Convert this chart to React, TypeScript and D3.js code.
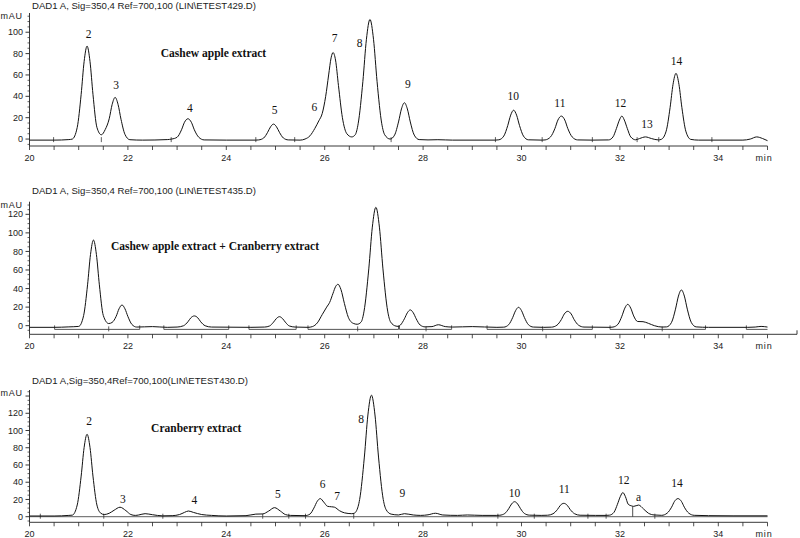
import React from "react";
import * as d3 from "d3";

// retention time (min) / absorbance (mAU)
const cashewTrace: [number, number][] = [
  [20, -1], [20.5, -1], [20.8, -0.5], [20.87, 0], [20.97, 10.9], [21.05, 41.9], [21.11, 72.5],
  [21.17, 87], [21.23, 72.5], [21.29, 41.9], [21.37, 11], [21.46, 4], [21.54, 9], [21.62, 19],
  [21.68, 32.4], [21.74, 39], [21.8, 32.4], [21.86, 18.5], [21.94, 4.4], [22.04, -0.6], [22.3, -1],
  [22.8, -0.5], [22.89, 0], [23.0, 1.7], [23.09, 8.7], [23.15, 15.7], [23.22, 19], [23.29, 15.7],
  [23.35, 8.7], [23.44, 1.7], [23.55, -0.8], [24.0, -1], [24.6, -1], [24.66, -0.8], [24.76, 1],
  [24.84, 6.3], [24.9, 11.5], [24.96, 14], [25.02, 11.5], [25.08, 6.3], [25.16, 1], [25.26, -0.8],
  [25.5, -1], [25.6, 0], [25.7, 3], [25.8, 10], [25.88, 17], [25.95, 24], [26.02, 40], [26.08, 60],
  [26.13, 76], [26.17, 81], [26.22, 74], [26.28, 50], [26.36, 20], [26.45, 5], [26.55, 2],
  [26.62, 4], [26.68, 14.3], [26.776, 54], [26.848, 93.4], [26.92, 112], [26.992, 93.4],
  [27.064, 54], [27.16, 14.3], [27.22, 4], [27.33, 0], [27.42, 3.7], [27.5, 16], [27.56, 28.2],
  [27.62, 34], [27.68, 28.2], [27.74, 16], [27.82, 3.7], [27.92, -0.5], [28.1, -0.8], [28.3, -0.6],
  [28.6, -1], [29.47, -1], [29.54, -0.7], [29.64, 2.8], [29.72, 12.6], [29.78, 22.4], [29.84, 27],
  [29.9, 22.4], [29.96, 12.6], [30.04, 2.8], [30.14, -0.7], [30.42, -1], [30.48, -0.8], [30.59, 2],
  [30.68, 10], [30.74, 17.8], [30.81, 21.5], [30.88, 17.8], [30.94, 10], [31.03, 2], [31.14, -0.8],
  [31.44, -1], [31.77, -0.8], [31.86, 2], [31.93, 10], [31.99, 17.8], [32.04, 21.5], [32.09, 17.8],
  [32.15, 10], [32.22, 2], [32.32, -0.7], [32.4, 0.5], [32.52, 2], [32.64, 0.5], [32.78, -0.8],
  [32.84, -0.3], [32.94, 7.4], [33.02, 29.4], [33.08, 51.2], [33.14, 61.5], [33.2, 51.2],
  [33.26, 29.4], [33.34, 7.4], [33.44, -0.3], [33.6, -1], [34.5, -1], [34.65, 0], [34.78, 2],
  [34.9, 0.5], [35, -1.5],
];

const mixTrace: [number, number][] = [
  [20, -1.8], [20.5, -1.8], [20.8, -1.3], [21.0, -0.8], [21.1, 10.9], [21.18, 44], [21.24, 76.7],
  [21.3, 92.3], [21.36, 76.7], [21.42, 44], [21.5, 11], [21.61, 2.3], [21.68, 3.5], [21.76, 9.9],
  [21.82, 18.2], [21.88, 22.3], [21.94, 18.2], [22.0, 9.9], [22.08, 1.4], [22.18, -1.5], [22.5, -1],
  [22.8, -1.8], [23.0, -1.5], [23.13, -0.1], [23.22, 4.2], [23.28, 8.5], [23.35, 10.5], [23.42, 8.5],
  [23.48, 4.2], [23.57, -0.1], [23.7, -1.5], [24.5, -1.8], [24.78, -1.5], [24.88, -0.3], [24.96, 3.8],
  [25.02, 7.8], [25.08, 9.7], [25.14, 7.8], [25.2, 3.8], [25.28, -0.3], [25.4, -1.5], [25.66, -1.8],
  [25.75, -1], [25.85, 3], [25.95, 12], [26.04, 20], [26.1, 25], [26.17, 35], [26.22, 42],
  [26.27, 44.6], [26.33, 39], [26.4, 24], [26.48, 9], [26.58, 2.5], [26.66, 1.5], [26.74, 3.9],
  [26.8, 15.7], [26.896, 61.2], [26.968, 106.2], [27.04, 127.6], [27.112, 106.2], [27.184, 61.2],
  [27.28, 15.7], [27.34, 3.9], [27.45, -0.5], [27.5, -0.8], [27.54, 0.7], [27.62, 7.4], [27.68, 13.9],
  [27.74, 17], [27.8, 13.9], [27.86, 7.4], [27.94, 0.7], [28.04, -1.3], [28.18, -1], [28.31, 1],
  [28.45, -1], [28.6, -1.5], [29.0, -1], [29.5, -1.8], [29.64, -1.6], [29.74, 1.1], [29.82, 8.7],
  [29.88, 16.2], [29.94, 19.8], [30.0, 16.2], [30.06, 8.7], [30.14, 1.1], [30.24, -1.5], [30.45, -1.8],
  [30.61, -1.6], [30.72, 0.5], [30.81, 6.6], [30.87, 12.6], [30.94, 15.5], [31.01, 12.6], [31.07, 6.6],
  [31.16, 0.5], [31.27, -1.5], [31.8, -1.8], [31.86, -1.5], [31.96, 1.5], [32.04, 10.2], [32.1, 18.9],
  [32.16, 23], [32.22, 18.9], [32.28, 10.5], [32.36, 4.5], [32.47, 4.3], [32.58, 2.5], [32.7, 0],
  [32.86, -1.5], [32.95, -1.3], [33.05, 3.6], [33.13, 17.8], [33.19, 31.9], [33.25, 38.5],
  [33.31, 31.9], [33.37, 17.8], [33.45, 3.6], [33.55, -1.3], [33.8, -1.8], [34.6, -1.8],
  [34.75, -1.5], [34.87, -0.8], [35, -1.5],
];

const cranTrace: [number, number][] = [
  [20, 0.8], [20.5, 0.8], [20.8, 1.5], [20.87, 1.8], [20.97, 13.6], [21.05, 47.1], [21.11, 80.2],
  [21.17, 95.6], [21.23, 80.2], [21.29, 47.1], [21.37, 13.6], [21.45, 4], [21.52, 2.5], [21.62, 4],
  [21.72, 7.5], [21.84, 11], [21.96, 7], [22.06, 2.5], [22.15, 1.5], [22.22, 2], [22.35, 3.5],
  [22.5, 2.3], [22.7, 1], [22.9, 1.2], [23.05, 2.5], [23.15, 5], [23.23, 6.6], [23.33, 5], [23.5, 2.5],
  [23.7, 1.5], [24.0, 0.8], [24.4, 1.2], [24.6, 3], [24.74, 3.2], [24.86, 6.5], [24.98, 10.5],
  [25.1, 6.5], [25.2, 2.5], [25.3, 1.5], [25.6, 1.2], [25.7, 3], [25.78, 10], [25.85, 18], [25.91, 21],
  [25.98, 17], [26.06, 12], [26.14, 11.5], [26.2, 11], [26.3, 7], [26.4, 4.5], [26.55, 3.5], [26.6, 4],
  [26.68, 12], [26.71, 19.9], [26.806, 69.2], [26.878, 118], [26.95, 141], [27.022, 118],
  [27.094, 69.2], [27.19, 20], [27.25, 8], [27.35, 3], [27.5, 2], [27.62, 3.5], [27.8, 2], [27.95, 1.5],
  [28.1, 2.2], [28.25, 4], [28.4, 2], [28.7, 1.5], [28.9, 2], [29.2, 1.5], [29.5, 1.5], [29.56, 1.7],
  [29.66, 3.7], [29.74, 9.3], [29.8, 14.9], [29.86, 17.4], [29.92, 14.9], [29.98, 9.3], [30.06, 3.7],
  [30.16, 1.8], [30.4, 1.5], [30.53, 1.7], [30.64, 3.4], [30.73, 8.3], [30.79, 13.2], [30.86, 15.5],
  [30.93, 13.2], [30.99, 8.3], [31.08, 3.4], [31.19, 1.7], [31.5, 1.5], [31.72, 1.5], [31.79, 1.8],
  [31.88, 5.1], [31.95, 14.4], [32.01, 23.6], [32.06, 28], [32.11, 23.6], [32.17, 14.4], [32.24, 12.5],
  [32.28, 12], [32.38, 13.5], [32.48, 9], [32.58, 4], [32.7, 2], [32.85, 1.6], [32.96, 4.1], [33.05, 11],
  [33.11, 17.8], [33.18, 21], [33.25, 17.8], [33.31, 11], [33.4, 4.1], [33.51, 1.6], [33.8, 1.2],
  [34.3, 1], [35, 1],
];

// peak labels: [text, time, mAU]
const cashewLabels: [string, number, number][] = [
  ["2", 21.2, 98], ["3", 21.76, 51], ["4", 23.26, 29], ["5", 24.98, 27], ["6", 25.79, 30],
  ["7", 26.2, 94.5], ["8", 26.71, 90], ["9", 27.69, 52], ["10", 29.83, 40.3], ["11", 30.78, 33.4],
  ["12", 32.01, 33.4], ["13", 32.55, 14], ["14", 33.15, 73.4],
];
const cranLabels: [string, number, number][] = [
  ["2", 21.21, 111.4], ["3", 21.9, 20.2], ["4", 23.35, 19.4], ["5", 25.05, 26], ["6", 25.96, 37.9],
  ["7", 26.25, 24.4], ["8", 26.74, 113], ["9", 27.58, 27.5], ["10", 29.86, 27.8], ["11", 30.87, 32.1],
  ["12", 32.08, 42.6], ["a", 32.38, 23.2], ["14", 33.16, 38.7],
];

// integration marks along the baseline
const cashewMarks = [20.49, 21.46, 22.88, 24.6, 25.39, 27.35, 29.47, 30.42, 31.44, 32.35, 32.79, 33.87];
const mixSegments: [number, number][] = [
  [20.51, 22.24], [22.73, 24.05], [24.46, 25.42], [25.66, 27.5], [27.52, 28.58],
  [29.3, 31.44], [31.8, 33.74], [34.57, 35],
];
const mixMarks = [21.61, 26.67, 28.06, 30.43, 32.86];
const cranMarks = [20.22, 21.51, 22.71, 24.74, 25.27, 25.61, 26.59, 29.52, 30.26, 31.35, 31.72, 32.71];

const timeTicks = [20, 22, 24, 26, 28, 30, 32, 34];

const SANS = "'Liberation Sans', Arial, sans-serif";
const SERIF = "'Liberation Serif', 'Times New Roman', serif";

const x = d3.scaleLinear().domain([20, 35]).range([29.5, 767.5]);

type PanelProps = {
  title: string;
  titleY: number;
  caption: string;
  captionAt: [number, number];
  trace: [number, number][];
  labels: [string, number, number][];
  yDomain: [number, number];
  yRange: [number, number];
  yMaxLabel: number;
  marks: number[];
  markBase: number;
  segments?: [number, number][];
  segmentLevel?: number;
  extendAxis?: boolean;
  tallMark?: [number, number];
  baselineRule?: boolean;
};

function Panel(p: PanelProps) {
  const y = d3.scaleLinear().domain(p.yDomain).range(p.yRange);
  const line = d3
    .line<[number, number]>()
    .x((d) => x(d[0]))
    .y((d) => y(d[1]))
    .curve(d3.curveMonotoneX);
  const axisY = p.yRange[0];
  const top = p.yRange[1];
  const x0 = x.range()[0];
  const x1 = x.range()[1];
  const majors = d3.range(0, p.yDomain[1], 20);
  const minors = d3.range(-5, p.yDomain[1], 5).filter((v) => v % 20 !== 0 && v >= p.yDomain[0]);
  const halfTicks = d3.range(20, 35.01, 0.5);

  return (
    <g>
      <text x={32} y={p.titleY} fontFamily={SANS} fontSize={9.6} fill="#222">
        {p.title}
      </text>
      <text x={0.5} y={top + 6} fontFamily={SANS} fontSize={9} fill="#222" letterSpacing={0.8}>
        mAU
      </text>
      {/* y axis */}
      <line x1={x0} x2={x0} y1={top} y2={axisY} stroke="#222" strokeWidth={0.9} />
      {majors.map((v) => (
        <g key={"M" + v}>
          <line x1={x0 - 4} x2={x0} y1={y(v)} y2={y(v)} stroke="#222" strokeWidth={0.9} />
          {v <= p.yMaxLabel && (
            <text x={x0 - 6.5} y={y(v)} dy="0.35em" textAnchor="end" fontFamily={SANS} fontSize={9} fill="#222">
              {v}
            </text>
          )}
        </g>
      ))}
      {minors.map((v) => (
        <line key={"m" + v} x1={x0 - 2} x2={x0} y1={y(v)} y2={y(v)} stroke="#222" strokeWidth={0.7} />
      ))}
      {/* x axis */}
      <line x1={x0} x2={x1} y1={axisY} y2={axisY} stroke="#222" strokeWidth={0.9} />
      {p.extendAxis && (
        <>
          <line x1={x1} x2={797} y1={axisY} y2={axisY} stroke="#222" strokeWidth={0.9} />
          <line x1={797} x2={797} y1={axisY - 4} y2={axisY} stroke="#222" strokeWidth={0.9} />
        </>
      )}
      {halfTicks.map((t) => (
        <line key={"t" + t} x1={x(t)} x2={x(t)} y1={axisY} y2={axisY + 4} stroke="#222" strokeWidth={0.8} />
      ))}
      {timeTicks.map((t) => (
        <text key={"l" + t} x={x(t)} y={axisY + 11.5} dy="0.35em" textAnchor="middle" fontFamily={SANS} fontSize={9} fill="#222">
          {t}
        </text>
      ))}
      <text x={764} y={axisY + 11.5} dy="0.35em" textAnchor="middle" fontFamily={SANS} fontSize={9} fill="#222" letterSpacing={0.8}>
        min
      </text>
      {/* integration baselines and marks */}
      {p.baselineRule && (
        <line x1={x0} x2={x1} y1={y(0)} y2={y(0)} stroke="#333" strokeWidth={0.8} />
      )}
      {p.segments &&
        p.segments.map(([a, b], i) => (
          <g key={"s" + i}>
            <line x1={x(a)} x2={x(b)} y1={y(p.segmentLevel!)} y2={y(p.segmentLevel!)} stroke="#555" strokeWidth={1} />
            <line x1={x(a)} x2={x(a)} y1={y(p.segmentLevel!) - 4} y2={y(p.segmentLevel!)} stroke="#333" strokeWidth={0.8} />
            {b < 35 && (
              <line x1={x(b)} x2={x(b)} y1={y(p.segmentLevel!) - 4} y2={y(p.segmentLevel!)} stroke="#333" strokeWidth={0.8} />
            )}
          </g>
        ))}
      {p.marks.map((t) => (
        <line key={"k" + t} x1={x(t)} x2={x(t)} y1={y(p.markBase) - 3} y2={y(p.markBase) + 2} stroke="#333" strokeWidth={0.8} />
      ))}
      {p.tallMark && (
        <line x1={x(p.tallMark[0])} x2={x(p.tallMark[0])} y1={y(0)} y2={y(p.tallMark[1])} stroke="#222" strokeWidth={0.8} />
      )}
      {/* signal */}
      <path d={line(p.trace) ?? ""} fill="none" stroke="#111" strokeWidth={1} />
      {p.labels.map(([s, t, v]) => (
        <text key={"p" + s} x={x(t)} y={y(v)} dy="0.35em" textAnchor="middle" fontFamily={SERIF} fontSize={11.5} fill="#111">
          {s}
        </text>
      ))}
      <text
        x={x(p.captionAt[0])}
        y={y(p.captionAt[1])}
        dy="0.35em"
        textAnchor="middle"
        fontFamily={SERIF}
        fontWeight="bold"
        fontSize={11.5}
        fill="#111"
      >
        {p.caption}
      </text>
    </g>
  );
}

export default function App() {
  return (
    <div style={{ position: "absolute", left: 0, top: 0 }}>
      <svg width={800} height={538} viewBox="0 0 800 538" style={{ display: "block", background: "#fff" }}>
        <Panel
          title="DAD1 A, Sig=350,4 Ref=700,100 (LIN\ETEST429.D)"
          titleY={8.5}
          caption="Cashew apple extract"
          captionAt={[23.74, 80.6]}
          trace={cashewTrace}
          labels={cashewLabels}
          yDomain={[-6.5, 118]}
          yRange={[146, 13]}
          yMaxLabel={100}
          marks={cashewMarks}
          markBase={-1}
        />
        <Panel
          title="DAD1 A, Sig=350,4 Ref=700,100 (LIN\ETEST435.D)"
          titleY={193.5}
          caption="Cashew apple extract + Cranberry extract"
          captionAt={[23.77, 85.9]}
          trace={mixTrace}
          labels={[]}
          yDomain={[-9.3, 133.6]}
          yRange={[334.3, 201.7]}
          yMaxLabel={120}
          marks={mixMarks}
          markBase={-4}
          segments={mixSegments}
          segmentLevel={-4}
          extendAxis
        />
        <Panel
          title="DAD1 A,Sig=350,4Ref=700,100(LIN\ETEST430.D)"
          titleY={383.5}
          caption="Cranberry extract"
          captionAt={[23.39, 102.9]}
          trace={cranTrace}
          labels={cranLabels}
          yDomain={[-6.5, 147]}
          yRange={[522.3, 390]}
          yMaxLabel={120}
          marks={cranMarks}
          markBase={0}
          tallMark={[32.26, 12]}
          baselineRule
        />
      </svg>
    </div>
  );
}
